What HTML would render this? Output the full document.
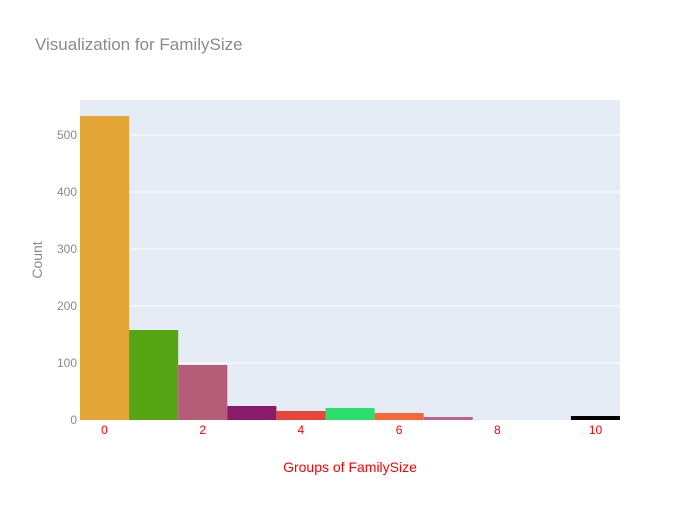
<!DOCTYPE html>
<html><head><style>body{margin:0;background:#fff}</style></head><body>
<svg width="700" height="500" xmlns="http://www.w3.org/2000/svg" font-family="Liberation Sans, sans-serif">
<rect width="700" height="500" fill="#fff"/>
<text x="35" y="50" font-size="17" fill="#8a8a8a">Visualization for FamilySize</text>
<rect x="80" y="100" width="540" height="320" fill="#e5ecf6"/>
<g stroke="#fff" stroke-width="1">
<line x1="80" x2="620" y1="363" y2="363"/><line x1="80" x2="620" y1="306" y2="306"/>
<line x1="80" x2="620" y1="249" y2="249"/><line x1="80" x2="620" y1="192" y2="192"/>
<line x1="80" x2="620" y1="135" y2="135"/>
</g>
<rect x="80" y="116" width="49.1" height="304" fill="#e2a536"/>
<rect x="129.1" y="330" width="49.1" height="90" fill="#56a514"/>
<rect x="178.2" y="365" width="49.1" height="55" fill="#b55c78"/>
<rect x="227.3" y="406" width="49.1" height="14" fill="#8a1a6b"/>
<rect x="276.4" y="411" width="49.1" height="9" fill="#e8453c"/>
<rect x="325.5" y="408" width="49.1" height="12" fill="#2ae06a"/>
<rect x="374.6" y="413" width="49.1" height="7" fill="#f4683a"/>
<rect x="423.7" y="417" width="49.1" height="3" fill="#c0628a"/>
<rect x="570.9" y="416" width="49.1" height="4" fill="#000"/>
<g font-size="12" fill="#8a8a8a" text-anchor="end">
<text x="77" y="424">0</text><text x="77" y="367">100</text><text x="77" y="310">200</text>
<text x="77" y="253">300</text><text x="77" y="196">400</text><text x="77" y="139">500</text>
</g>
<g font-size="12" fill="#ff0000" text-anchor="middle">
<text x="104.5" y="434">0</text><text x="202.7" y="434">2</text><text x="300.9" y="434">4</text>
<text x="399.1" y="434">6</text><text x="497.3" y="434">8</text><text x="595.5" y="434">10</text>
</g>
<text x="350" y="472" font-size="14" fill="#ff0000" text-anchor="middle">Groups of FamilySize</text>
<text transform="translate(42,260) rotate(-90)" font-size="14" fill="#8a8a8a" text-anchor="middle">Count</text>
</svg>
</body></html>
